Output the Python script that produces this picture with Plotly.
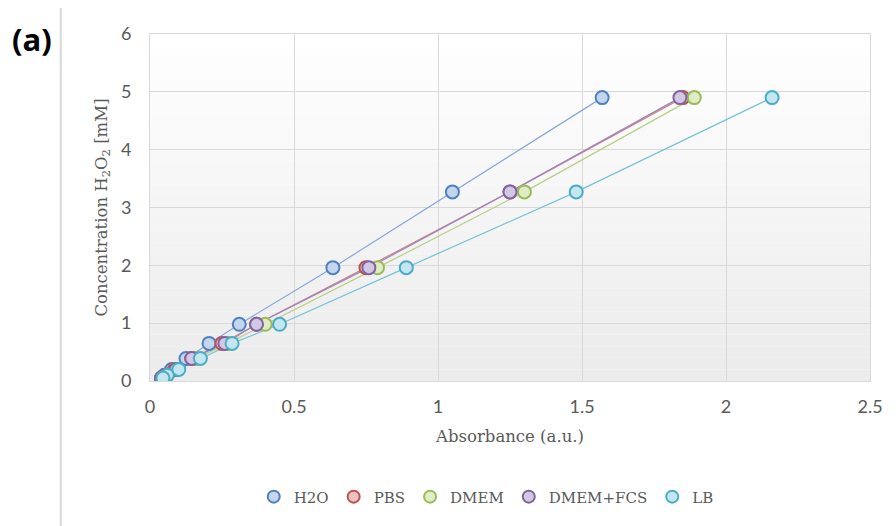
import plotly.graph_objects as go

# ---- data ----
concentration = [4.9, 3.27, 1.96, 0.98, 0.65, 0.39, 0.2, 0.1, 0.05]
abs_h2o = [1.57, 1.05, 0.635, 0.31, 0.205, 0.125, 0.075, 0.05, 0.04]
abs_pbs = [1.85, 1.25, 0.75, 0.37, 0.25, 0.145, 0.085, 0.055, 0.04]
abs_dmem = [1.89, 1.30, 0.79, 0.40, 0.27, 0.16, 0.09, 0.06, 0.045]
abs_dmem_fcs = [1.84, 1.25, 0.76, 0.37, 0.26, 0.145, 0.09, 0.055, 0.04]
abs_lb = [2.16, 1.48, 0.89, 0.45, 0.285, 0.175, 0.10, 0.06, 0.045]
series_names = ["H2O", "PBS", "DMEM", "DMEM+FCS", "LB"]
x_ticks = [0, 0.5, 1, 1.5, 2, 2.5]
y_ticks = [0, 1, 2, 3, 4, 5, 6]

series = [abs_h2o, abs_pbs, abs_dmem, abs_dmem_fcs, abs_lb]
line_colors = ["#86a8d8", "#c98583", "#b9cf86", "#9f86bb", "#78c2d6"]
edge_colors = ["#4f81bd", "#c0504d", "#9bbb59", "#8064a2", "#4bacc6"]
fill_colors = ["#c4d5ee", "#ecc3c2", "#dfecc4", "#d3c8e3", "#c3e6f0"]

serif = "DejaVu Serif"
sans = "Lato"

fig = go.Figure()

# subtle vertical gradient in plot area
n_bands = 30
for i in range(n_bands):
    g = int(255 - (255 - 236) * (i / (n_bands - 1)))
    fig.add_shape(type="rect", xref="x domain", yref="y domain",
                  x0=0, x1=1, y0=1 - (i + 1) / n_bands, y1=1 - i / n_bands,
                  fillcolor=f"rgb({g},{g},{g})", line_width=0, layer="below")

# connecting lines
for name, vals, lc in zip(series_names, series, line_colors):
    fig.add_trace(go.Scatter(
        x=vals, y=concentration, name=name, mode="lines", legendgroup=name,
        showlegend=False, line=dict(color=lc, width=1.2), hoverinfo="skip",
    ))
# markers
for name, vals, ec, fc in zip(series_names, series, edge_colors, fill_colors):
    fig.add_trace(go.Scatter(
        x=vals, y=concentration, name=name, mode="markers", legendgroup=name,
        marker=dict(size=13, color=fc, line=dict(color=ec, width=2)),
    ))

# outer frame
fig.add_shape(type="line", xref="paper", yref="paper",
              x0=-0.124, x1=1.06, y0=1.078, y1=1.078,
              line=dict(color="#d9d9d9", width=2))
fig.add_shape(type="line", xref="paper", yref="paper",
              x0=-0.124, x1=-0.124, y0=1.078, y1=-0.45,
              line=dict(color="#d9d9d9", width=2))

fig.add_annotation(text="<b>(a)</b>", xref="paper", yref="paper",
                   x=-0.194, y=0.985, xanchor="left", yanchor="middle",
                   showarrow=False, font=dict(family="Open Sans", size=31, color="black"))

fig.update_layout(
    width=896, height=526,
    margin=dict(l=142, r=34, t=26, b=153),
    paper_bgcolor="white", plot_bgcolor="rgba(0,0,0,0)",
    showlegend=True,
    legend=dict(orientation="h", x=0.467, xanchor="center", y=-0.334, yanchor="middle",
                font=dict(family=serif, size=15, color="#595959"),
                itemsizing="constant", itemwidth=30, traceorder="normal",
                bgcolor="rgba(0,0,0,0)"),
    xaxis=dict(range=[0, 2.5], tickvals=x_ticks, ticktext=[str(v) for v in x_ticks],
               showgrid=True, gridcolor="#d9d9d9", gridwidth=1, zeroline=False,
               showline=True, linecolor="#d9d9d9", mirror=True, ticks="",
               tickfont=dict(family=sans, size=18, color="#595959"),
               ticklabelstandoff=9,
               title=dict(text="Absorbance (a.u.)", font=dict(family=serif, size=16.5, color="#595959"),
                          standoff=14)),
    yaxis=dict(range=[0, 6], tickvals=y_ticks,
               showgrid=True, gridcolor="#d9d9d9", gridwidth=1, zeroline=False,
               showline=True, linecolor="#d9d9d9", mirror=True, ticks="",
               tickfont=dict(family=sans, size=18, color="#595959"),
               ticklabelstandoff=14,
               title=dict(text="Concentration H<sub>2</sub>O<sub>2</sub> [mM]",
                          font=dict(family=serif, size=16.5, color="#595959"), standoff=9)),
)

fig.write_html("out.html")
